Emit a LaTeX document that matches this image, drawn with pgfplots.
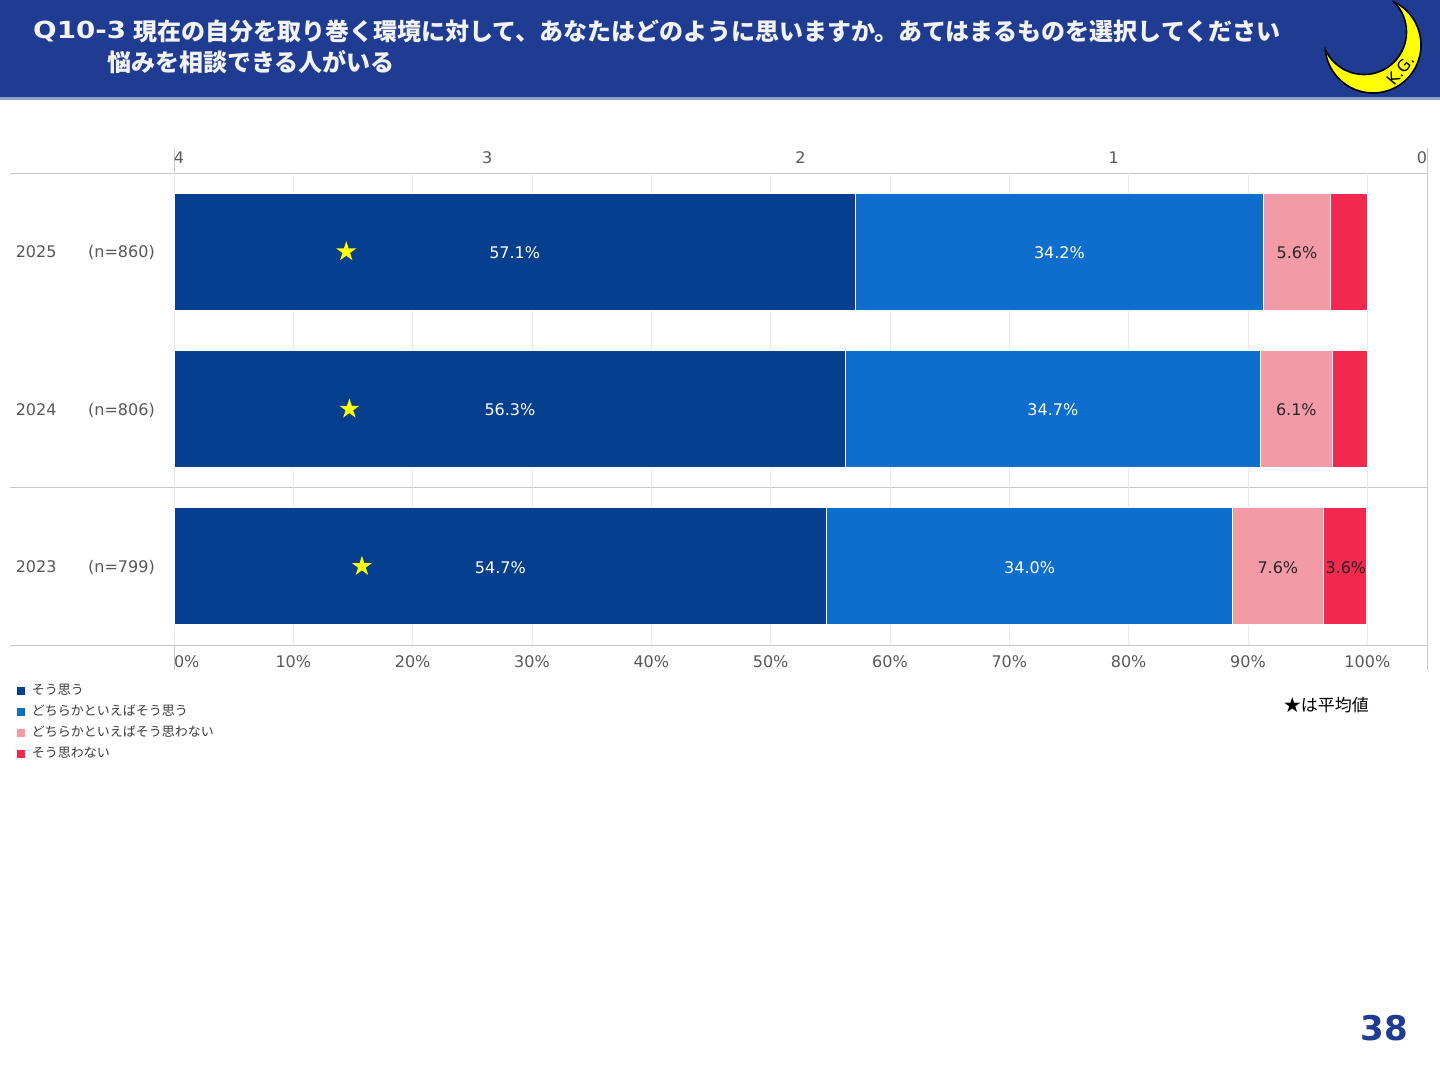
\documentclass[border=0pt]{standalone}
\usepackage{fontspec}
\usepackage{pgfplots}
\pgfplotsset{compat=1.18}
\setmainfont{DejaVu Sans}
\newfontfamily\jp{Noto Sans CJK JP}
\newfontfamily\djb{DejaVu Sans Bold}
\newfontfamily\djbw{DejaVu Sans Bold}[FakeStretch=1.18]
\definecolor{c1}{HTML}{073F8F}
\definecolor{c2}{HTML}{0E6ECD}
\definecolor{c3}{HTML}{F39AA7}
\definecolor{c4}{HTML}{F2284F}
\definecolor{banner}{HTML}{1F3C92}
\definecolor{bannerline}{HTML}{8DA0C9}
\definecolor{tickc}{HTML}{595959}
\definecolor{framec}{HTML}{C8C8C8}
\definecolor{gridc}{HTML}{EBEBEB}
\definecolor{moony}{HTML}{FFFF00}
\definecolor{dark}{HTML}{262626}
\pgfdeclareplotmark{fstar}{%
 \pgfpathmoveto{\pgfpointpolar{90}{\pgfplotmarksize}}%
 \pgfpathlineto{\pgfpointpolar{126}{0.382\pgfplotmarksize}}%
 \pgfpathlineto{\pgfpointpolar{162}{\pgfplotmarksize}}%
 \pgfpathlineto{\pgfpointpolar{198}{0.382\pgfplotmarksize}}%
 \pgfpathlineto{\pgfpointpolar{234}{\pgfplotmarksize}}%
 \pgfpathlineto{\pgfpointpolar{270}{0.382\pgfplotmarksize}}%
 \pgfpathlineto{\pgfpointpolar{306}{\pgfplotmarksize}}%
 \pgfpathlineto{\pgfpointpolar{342}{0.382\pgfplotmarksize}}%
 \pgfpathlineto{\pgfpointpolar{18}{\pgfplotmarksize}}%
 \pgfpathlineto{\pgfpointpolar{54}{0.382\pgfplotmarksize}}%
 \pgfpathclose\pgfusepathqfill}
\begin{document}
\begin{tikzpicture}
\begin{scope}[x=1pt,y=-1pt]
\useasboundingbox (0,0) rectangle (1440,1080);
\fill[white] (0,0) rectangle (1440,1080);
\fill[banner] (0,0) rectangle (1440,98);
\fill[bannerline] (0,97) rectangle (1440,99.5);
\node[anchor=west, inner sep=0pt, text=white!95!black, font=\djbw\fontsize{23.5}{28}\selectfont] at (33,31) {Q10-3};
\node[anchor=west, inner sep=0pt, text=white!95!black, font=\jp\bfseries\fontsize{24}{28}\selectfont] at (133,31) {現在の自分を取り巻く環境に対して、あなたはどのように思いますか。あてはまるものを選択してください};
\node[anchor=west, inner sep=0pt, text=white!95!black, font=\jp\bfseries\fontsize{24}{28}\selectfont] at (107,62) {悩みを相談できる人がいる};
% moon logo
\begin{scope}
\clip (0,0) rectangle (1440,97);
\fill[moony] (1373,45) circle (48);
\draw[black, line width=1.6pt] (1373,45) circle (48);
\fill[banner] (1364,32) circle (42.5);
\begin{scope}
\clip (1373,45) circle (48);
\draw[black, line width=1.6pt] (1364,32) circle (42.5);
\end{scope}
\end{scope}
\node[rotate=50, inner sep=0pt, font=\fontsize{16}{16}\selectfont] at (1401,70) {K.G.};
% frame lines
\draw[framec, line width=1pt] (10,173) -- (1427,173);
\draw[framec, line width=1pt] (10,487) -- (1427,487);
\draw[framec, line width=1pt] (10,645) -- (1427,645);
\draw[framec, line width=1pt] (174,148) -- (174,670);
\draw[framec, line width=1pt] (1427,148) -- (1427,670);
\end{scope}

% main stacked bars
\begin{axis}[
 at={(174pt,-645pt)}, anchor=south west,
 scale only axis, width=1253pt, height=472pt,
 xmin=0, xmax=105, ymin=-0.5, ymax=2.5, y dir=reverse,
 xbar stacked, bar width=117pt,
 axis line style={draw=none},
 major tick length=0pt, tick style={draw=none},
 xtick={0,10,20,30,40,50,60,70,80,90,100},
 xticklabels={\makebox[0pt][l]{0\%},10\%,20\%,30\%,40\%,50\%,60\%,70\%,80\%,90\%,100\%},
 xticklabel style={text=tickc, font=\fontsize{16}{19}\selectfont, inner sep=0pt, anchor=north, yshift=-10pt},
 xmajorgrids, grid style={gridc, line width=1pt},
 ytick={0,1,2},
 yticklabels={\makebox[139pt]{2025\hfill(n=860)},\makebox[139pt]{2024\hfill(n=806)},\makebox[139pt]{2023\hfill(n=799)}},
 yticklabel style={text=tickc, font=\fontsize{16}{19}\selectfont, inner sep=0pt, anchor=east, xshift=-19pt, yshift=-1pt},
 legend image code/.code={\fill[#1] (0pt,-4.5pt) rectangle (9pt,4.5pt);},
 legend cell align=left,
 legend style={at={(-0.1261,-0.075)}, anchor=north west, draw=none, fill=none, inner sep=0pt, column sep=6pt,
   font=\jp\fontsize{13}{15}\selectfont, text=dark!90!white,
   nodes={inner xsep=0pt, inner ysep=4pt, text height=10pt, text depth=3pt}},
]
\addplot[fill=c1, draw=white, line width=0.8pt] coordinates {(57.1,0) (56.3,1) (54.7,2)};
\addlegendentry{そう思う}
\addplot[fill=c2, draw=white, line width=0.8pt] coordinates {(34.2,0) (34.7,1) (34.0,2)};
\addlegendentry{どちらかといえばそう思う}
\addplot[fill=c3, draw=white, line width=0.8pt] coordinates {(5.6,0) (6.1,1) (7.6,2)};
\addlegendentry{どちらかといえばそう思わない}
\addplot[fill=c4, draw=white, line width=0.8pt] coordinates {(3.1,0) (2.9,1) (3.6,2)};
\addlegendentry{そう思わない}
\end{axis}

% data labels
\begin{axis}[
 at={(174pt,-645pt)}, anchor=south west,
 scale only axis, width=1253pt, height=472pt,
 xmin=0, xmax=105, ymin=-0.5, ymax=2.5, y dir=reverse,
 hide axis,
 every node near coord/.append style={anchor=center, inner sep=0pt, font=\fontsize{16}{19}\selectfont, yshift=-1pt},
]
\addplot[draw=none, mark=none, nodes near coords, point meta=explicit symbolic,
  every node near coord/.append style={text=white}]
  coordinates {(28.55,0)[57.1\%] (28.15,1)[56.3\%] (27.35,2)[54.7\%]
               (74.2,0)[34.2\%] (73.65,1)[34.7\%] (71.7,2)[34.0\%]};
\addplot[draw=none, mark=none, nodes near coords, point meta=explicit symbolic,
  every node near coord/.append style={text=dark}]
  coordinates {(94.1,0)[5.6\%] (94.05,1)[6.1\%] (92.5,2)[7.6\%] (98.2,2)[3.6\%]};
\end{axis}

% mean score axis (top) with stars
\begin{axis}[
 at={(174pt,-645pt)}, anchor=south west,
 scale only axis, width=1253pt, height=472pt,
 xmin=0, xmax=4, x dir=reverse, ymin=-0.5, ymax=2.5, y dir=reverse,
 axis line style={draw=none},
 major tick length=0pt, tick style={draw=none},
 ytick=\empty,
 xtick={0,1,2,3,4},
 xticklabels={\makebox[0pt][r]{0},1,2,3,\makebox[0pt][l]{4}},
 xticklabel pos=upper,
 xticklabel style={text=tickc, font=\fontsize{16}{19}\selectfont, inner sep=0pt, anchor=south, yshift=9pt},
]
\addplot[only marks, mark=fstar, mark size=10.5pt, color=moony] coordinates {(3.45,0) (3.44,1) (3.40,2)};
\end{axis}

\begin{scope}[x=1pt,y=-1pt]
\node[anchor=east, inner sep=0pt, font=\jp\fontsize{17}{19}\selectfont] at (1369,705) {★は平均値};
\node[anchor=east, inner sep=0pt, text=banner, font=\djb\fontsize{34}{36}\selectfont] at (1408,1028) {38};
\end{scope}
\end{tikzpicture}
\end{document}
